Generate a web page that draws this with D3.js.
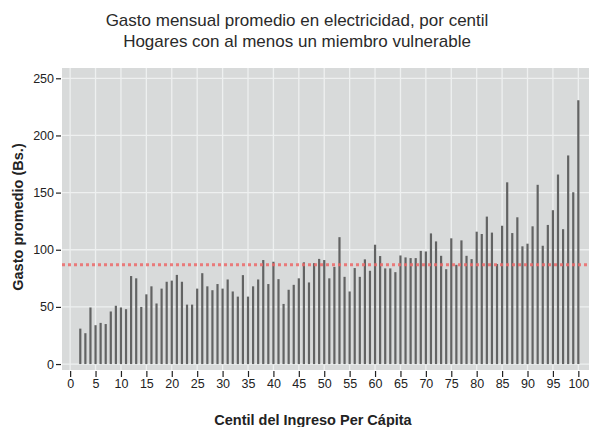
<!DOCTYPE html>
<html lang="es">
<head>
<meta charset="UTF-8">
<script src="https://d3js.org/d3.v7.min.js"></script>
<style>
  body { margin: 0; background: #fff; }
  text { font-family: "Liberation Sans", Arial, sans-serif; fill: #222; }
</style>
</head>
<body>
<div id="chart"></div>
<script>
// centil 1 has no bar in the source
const centiles = d3.range(1, 101);
const gasto = [
  null, 31, 27, 49.5, 34, 36, 35, 46, 51, 49.5,
  48, 77, 75, 50, 61, 68, 53, 66, 72, 73,
  78, 72, 52, 52, 66, 79.5, 68, 64.6, 70, 66,
  74, 63.5, 59, 77.8, 59, 68, 74, 91, 70, 89.5,
  74.3, 52.6, 65, 69.3, 75, 89, 71.4, 88.3, 92, 91,
  75, 85, 111, 76.3, 63.5, 84, 76.3, 91.6, 81.6, 104.4,
  94.5, 83.7, 83.7, 80.4, 95, 93.3, 92.7, 92.7, 99, 98.5,
  114.3, 107.3, 94.7, 83, 110, 86.8, 108.2, 94.7, 91.8, 115.8,
  113.8, 129, 115, 87.5, 121, 159, 114.6, 128.4, 103, 105.3,
  120.5, 156.8, 103.5, 121.7, 134.6, 165.8, 118, 182.5, 150.3, 230.7
];
const promedio = 86.8;
const xTicks = d3.range(0, 101, 5);
const yTicks = [0, 50, 100, 150, 200, 250];
const titleLines = [
  "Gasto mensual promedio en electricidad, por centil",
  "Hogares con al menos un miembro vulnerable"
];
const xTitle = "Centil del Ingreso Per Cápita";
const yTitle = "Gasto promedio (Bs.)";

const width = 592, height = 427;
const panel = { left: 62, right: 589, top: 68, bottom: 370 };

const svg = d3.select("#chart").append("svg")
  .attr("width", width).attr("height", height);

const x = d3.scaleLinear().domain([-1.6, 102.1]).range([panel.left, panel.right]);
const y = d3.scaleLinear().domain([-5.2, 259]).range([panel.bottom, panel.top]);

// panel background
svg.append("rect")
  .attr("x", panel.left).attr("y", panel.top)
  .attr("width", panel.right - panel.left).attr("height", panel.bottom - panel.top)
  .attr("fill", "#d8dada");

// grid
svg.append("g").selectAll("line").data(xTicks).join("line")
  .attr("x1", d => x(d)).attr("x2", d => x(d))
  .attr("y1", panel.top).attr("y2", panel.bottom)
  .attr("stroke", "#eef0f0").attr("stroke-width", 1.3);
svg.append("g").selectAll("line").data(yTicks).join("line")
  .attr("x1", panel.left).attr("x2", panel.right)
  .attr("y1", d => y(d)).attr("y2", d => y(d))
  .attr("stroke", "#eef0f0").attr("stroke-width", 1.3);

// bars
const data = centiles.map((c, i) => ({ c: c, v: gasto[i] })).filter(d => d.v != null);
svg.append("g").selectAll("line").data(data).join("line")
  .attr("x1", d => x(d.c)).attr("x2", d => x(d.c))
  .attr("y1", y(0)).attr("y2", d => y(d.v))
  .attr("stroke", "#626363").attr("stroke-width", 2.2);

// mean line
svg.append("line")
  .attr("x1", panel.left).attr("x2", panel.right)
  .attr("y1", y(promedio)).attr("y2", y(promedio))
  .attr("stroke", "#ec6a6a").attr("stroke-width", 3)
  .attr("stroke-dasharray", "3,3").attr("opacity", 0.85);

// axes
const xAxis = d3.axisBottom(x).tickValues(xTicks).tickSize(6).tickPadding(2).tickFormat(d3.format("d"));
const gx = svg.append("g").attr("transform", "translate(0," + (panel.bottom + 1) + ")").call(xAxis);
gx.select(".domain").remove();
gx.selectAll("line").attr("stroke", "#222").attr("stroke-width", 1.2);
gx.selectAll("text").attr("font-size", 12.5).attr("fill", "#222")
  .style("font-family", "Liberation Sans, Arial, sans-serif");

const yAxis = d3.axisLeft(y).tickValues(yTicks).tickSize(5).tickPadding(2).tickFormat(d3.format("d"));
const gy = svg.append("g").attr("transform", "translate(" + (panel.left - 1) + ",0)").call(yAxis);
gy.select(".domain").remove();
gy.selectAll("line").attr("stroke", "#222").attr("stroke-width", 1.2);
gy.selectAll("text").attr("font-size", 12.5).attr("fill", "#222")
  .style("font-family", "Liberation Sans, Arial, sans-serif");

// titles
svg.append("g").selectAll("text").data(titleLines).join("text")
  .attr("x", 297).attr("y", (d, i) => 25.5 + i * 21.7)
  .attr("text-anchor", "middle").attr("font-size", 17)
  .style("fill", "#2a2a2a")
  .text(d => d);

svg.append("text")
  .attr("x", 313).attr("y", 425)
  .attr("text-anchor", "middle").attr("font-size", 14.5).attr("font-weight", "bold")
  .text(xTitle);

svg.append("text")
  .attr("transform", "translate(23,217) rotate(-90)")
  .attr("text-anchor", "middle").attr("font-size", 14.5).attr("font-weight", "bold")
  .text(yTitle);
</script>
</body>
</html>
